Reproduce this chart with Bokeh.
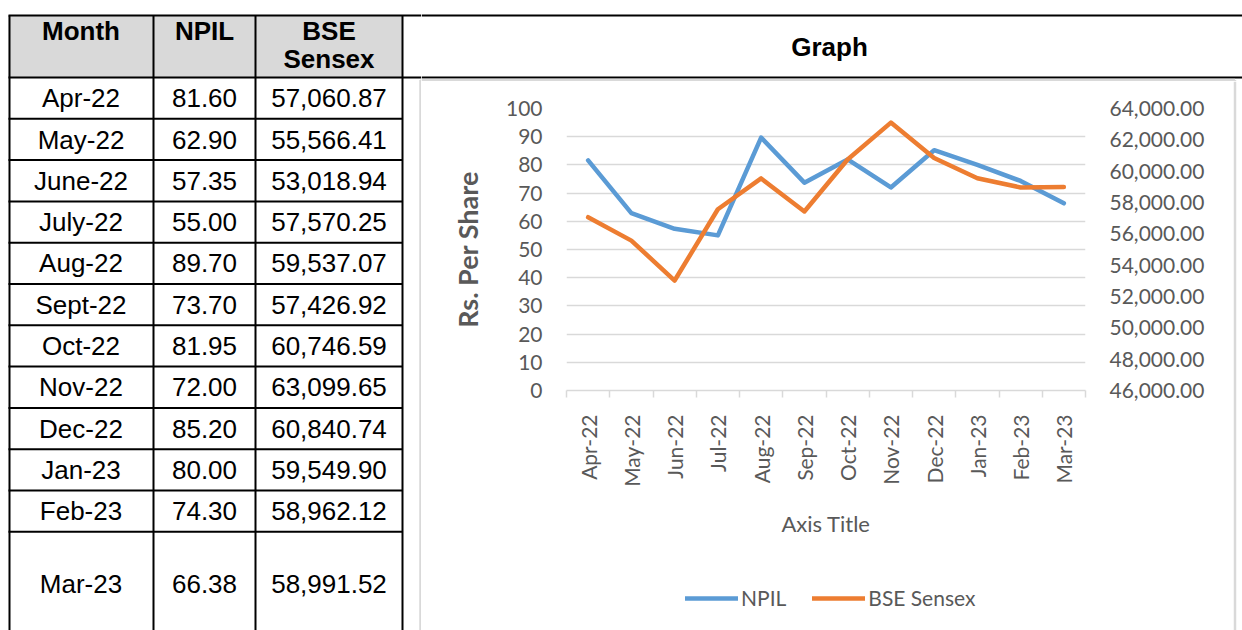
import math
from bokeh.plotting import figure
from bokeh.layouts import row, column
from bokeh.models import (Range1d, LinearAxis, FixedTicker, NumeralTickFormatter, Legend,
                          LegendItem, Grid)
from bokeh.core.properties import value
from bokeh.embed import file_html
from bokeh.resources import INLINE

# ---------------- data ----------------
table_months = ["Apr-22", "May-22", "June-22", "July-22", "Aug-22", "Sept-22",
                "Oct-22", "Nov-22", "Dec-22", "Jan-23", "Feb-23", "Mar-23"]
axis_months = ["Apr-22", "May-22", "Jun-22", "Jul-22", "Aug-22", "Sep-22",
               "Oct-22", "Nov-22", "Dec-22", "Jan-23", "Feb-23", "Mar-23"]
npil = [81.60, 62.90, 57.35, 55.00, 89.70, 73.70, 81.95, 72.00, 85.20, 80.00, 74.30, 66.38]
bse = [57060.87, 55566.41, 53018.94, 57570.25, 59537.07, 57426.92, 60746.59,
       63099.65, 60840.74, 59549.90, 58962.12, 58991.52]
left_ticks = [0, 10, 20, 30, 40, 50, 60, 70, 80, 90, 100]
right_ticks = [46000, 48000, 50000, 52000, 54000, 56000, 58000, 60000, 62000, 64000]
header_cols = ["Month", "NPIL", "BSE", "Sensex"]
series_names = ["NPIL", "BSE Sensex"]
graph_header = "Graph"

# ---------------- layout (page pixels) ----------------
TW = 421              # table figure width
HH = 81               # graph header figure height
FL, FR, FT, FB = 566, 1085, 108, 390
CR = 1232             # chart figure right edge
LT = 560              # legend strip top
PW, PH = 1242, 630

BLUE = "#5B9BD5"
ORANGE = "#ED7D31"
GRID = "#D9D9D9"
TXT = "#595959"
CHART_FONT = "Lato"
TABLE_FONT = "Liberation Sans"


def blank(width, height, x0, x1, y0, y1, left=0, right=0):
    f = figure(width=width, height=height, x_range=Range1d(x0, x1), y_range=Range1d(y1, y0),
               output_backend="svg", toolbar_location=None, x_axis_type=None, y_axis_type=None,
               min_border=0, min_border_left=left, min_border_right=right,
               min_border_top=0, min_border_bottom=0)
    f.outline_line_color = None
    f.background_fill_color = "white"
    f.border_fill_color = "white"
    return f


# ---------------- table figure ----------------
t = blank(TW, PH, 0, TW, 0, PH)
t.quad(left=[8], right=[402], top=[15], bottom=[77], fill_color="#D9D9D9", line_alpha=0)

row_lines = [77 + 41.3 * k for k in range(1, 12)]
sx0 = [8, 8] + [8] * len(row_lines) + [9, 153, 255, 402]
sx1 = [TW, TW] + [402] * len(row_lines) + [9, 153, 255, 402]
sy0 = [15, 77] + row_lines + [15, 15, 15, 15]
sy1 = [15, 77] + row_lines + [PH, PH, PH, PH]
t.segment(sx0, sy0, sx1, sy1, line_color="black", line_width=2)
# chart box (left edge)
t.segment([420, 420], [79.5, 79.5], [420, TW], [PH, 79.5], line_color=GRID, line_width=2.5)

t.text(x=[80.5, 204, 328.5, 328.5], y=[30, 30, 30, 58.5], text=header_cols,
       text_font=value(TABLE_FONT), text_font_size="26px", text_font_style="bold",
       text_color="black", text_align="center", text_baseline="middle")

row_y = [97.7 + 41.3 * k for k in range(11)] + [583]
bx, by, bt = [], [], []
for i in range(12):
    bx += [80.5, 204, 328.5]
    by += [row_y[i]] * 3
    bt += [table_months[i], f"{npil[i]:.2f}", f"{bse[i]:,.2f}"]
t.text(x=bx, y=by, text=bt, text_font=value(TABLE_FONT), text_font_size="26px",
       text_color="black", text_align="center", text_baseline="middle")

# ---------------- graph header figure ----------------
g = blank(PW - TW, HH, TW, PW, 0, HH)
g.segment([TW, TW], [15, 77], [PW, PW], [15, 77], line_color="black", line_width=2)
g.segment([TW, 1234.5], [79.5, 79.5], [1234.5, 1234.5], [79.5, HH], line_color=GRID, line_width=2.5)
g.text(x=[829], y=[46], text=[graph_header], text_font=value(TABLE_FONT),
       text_font_size="26px", text_font_style="bold", text_color="black",
       text_align="center", text_baseline="middle")

# ---------------- right edge strip ----------------
v = blank(PW - CR, PH - HH, CR, PW, HH, PH)
v.segment([1234.5], [HH], [1234.5], [PH], line_color=GRID, line_width=2.5)

# ---------------- chart ----------------
p = figure(width=CR - TW, height=LT - HH, x_range=Range1d(-0.5, 11.5), y_range=Range1d(0, 100),
           output_backend="svg", toolbar_location=None,
           x_axis_type=None, y_axis_type=None,
           min_border_left=FL - TW, min_border_right=CR - FR,
           min_border_top=FT - HH, min_border_bottom=LT - FB)
p.outline_line_color = None
p.background_fill_color = "white"
p.border_fill_color = "white"
p.extra_y_ranges = {"bse": Range1d(46000, 64000)}

p.add_layout(Grid(dimension=1, ticker=FixedTicker(ticks=left_ticks),
                  grid_line_color=GRID, grid_line_width=1.5))

idx = list(range(len(axis_months)))
r1 = p.line(idx, npil, line_color=BLUE, line_width=4.5, line_join="round", line_cap="round")
r2 = p.line(idx, bse, line_color=ORANGE, line_width=4.5, line_join="round", line_cap="round",
            y_range_name="bse")

xaxis = LinearAxis(ticker=FixedTicker(ticks=idx, minor_ticks=[i - 0.5 for i in range(13)]),
                   major_label_overrides={i: m for i, m in enumerate(axis_months)},
                   major_label_orientation=math.pi / 2,
                   axis_line_color=GRID, axis_line_width=1.5,
                   major_tick_line_color=None, major_tick_out=0, major_tick_in=0,
                   minor_tick_line_color=GRID, minor_tick_line_width=1.5,
                   minor_tick_out=7, minor_tick_in=0,
                   major_label_standoff=17,
                   major_label_text_font=CHART_FONT, major_label_text_font_size="21px",
                   major_label_text_color=TXT,
                   axis_label="Axis Title", axis_label_standoff=20,
                   axis_label_text_font=CHART_FONT, axis_label_text_font_size="22px",
                   axis_label_text_font_style="normal", axis_label_text_color=TXT)
p.add_layout(xaxis, "below")

laxis = LinearAxis(ticker=FixedTicker(ticks=left_ticks),
                   axis_line_color=None, major_tick_line_color=None, minor_tick_line_color=None,
                   major_tick_out=0, major_tick_in=0, major_label_standoff=24,
                   major_label_text_font=CHART_FONT, major_label_text_font_size="21px",
                   major_label_text_color=TXT,
                   axis_label="Rs. Per Share", axis_label_standoff=19,
                   axis_label_text_font=CHART_FONT, axis_label_text_font_size="27px",
                   axis_label_text_font_style="bold", axis_label_text_color=TXT)
p.add_layout(laxis, "left")

raxis = LinearAxis(y_range_name="bse", ticker=FixedTicker(ticks=right_ticks),
                   formatter=NumeralTickFormatter(format="0,0.00"),
                   axis_line_color=None, major_tick_line_color=None, minor_tick_line_color=None,
                   major_tick_out=0, major_tick_in=0, major_label_standoff=24,
                   major_label_text_font=CHART_FONT, major_label_text_font_size="21px",
                   major_label_text_color=TXT)
p.add_layout(raxis, "right")

# ---------------- legend strip (frame aligned with the chart frame) ----------------
lf = blank(CR - TW, PH - LT, FL, FR, LT, PH, left=FL - TW, right=CR - FR)
# key renderers carry the series but lie outside this strip's ranges (only their legend keys show)
k1 = lf.line(idx, npil, line_color=BLUE, line_width=4.5, line_cap="round")
k2 = lf.line(idx, bse, line_color=ORANGE, line_width=4.5, line_cap="round")
legend = Legend(items=[LegendItem(label=series_names[0], renderers=[k1]),
                       LegendItem(label=series_names[1], renderers=[k2])],
                orientation="horizontal", location=(685 - FL, PH - 610),
                glyph_width=53, glyph_height=20, label_standoff=3, spacing=26,
                padding=0, margin=0, border_line_color=None, background_fill_alpha=0,
                label_text_font=CHART_FONT, label_text_font_size="21px",
                label_text_color=TXT)
lf.add_layout(legend, "center")

layout = row(t, column(g, row(column(p, lf, spacing=0), v, spacing=0), spacing=0), spacing=0)

open("out.html", "w").write(file_html(layout, INLINE))
